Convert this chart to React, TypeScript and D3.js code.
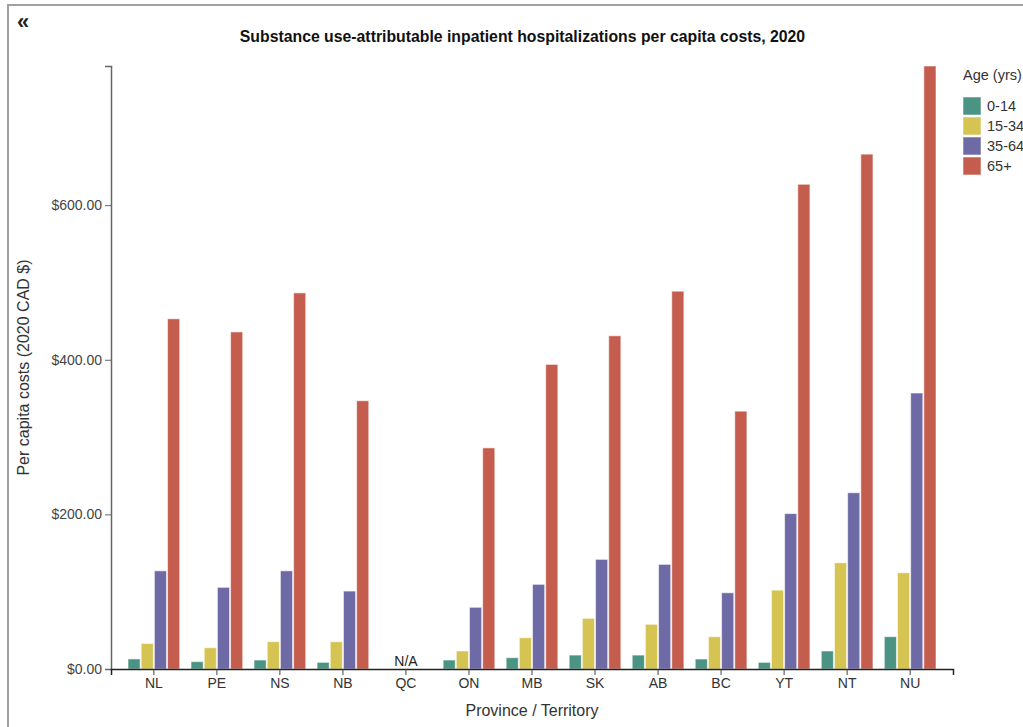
import React, { useEffect, useRef } from "react";
import * as d3 from "d3";

const provinces = ["NL", "PE", "NS", "NB", "QC", "ON", "MB", "SK", "AB", "BC", "YT", "NT", "NU"];
const ageGroups = ["0-14", "15-34", "35-64", "65+"];
const colors = ["#4b9483", "#d6c452", "#6e6aa6", "#c45d4e"];
// values per age group, aligned with provinces; null = N/A
const age0_14 = [13, 9.5, 11.6, 8.6, null, 11.6, 14.6, 18, 18, 12.9, 8.6, 23.3, 41.8];
const age15_34 = [33, 27.5, 35.3, 35.3, null, 23.3, 40.5, 65.5, 57.8, 41.8, 102, 137.4, 124.5];
const age35_64 = [127, 105.6, 127, 100.8, null, 79.8, 109.5, 141.8, 135.3, 98.6, 201, 228, 357];
const age65plus = [453, 436, 486.5, 347, null, 286, 394, 431, 488.7, 333.5, 627, 666, 780];
const yTicks = [0, 200, 400, 600];
const title = "Substance use-attributable inpatient hospitalizations per capita costs, 2020";
const yLabel = "Per capita costs (2020 CAD $)";
const xLabel = "Province / Territory";
const legendTitle = "Age (yrs)";

const W = 1023;
const H = 727;
const FONT = "'Liberation Sans', Arial, Helvetica, sans-serif";

export default function App() {
  const ref = useRef<SVGSVGElement>(null);

  useEffect(() => {
    const svg = d3.select(ref.current);
    svg.selectAll("*").remove();
    const series = [age0_14, age15_34, age35_64, age65plus];
    const margin = { left: 111, right: 953, top: 66, bottom: 669 };

    // frame
    svg.append("path")
      .attr("d", `M8,${H} L8,5 L${W},5`)
      .attr("fill", "none")
      .attr("stroke", "#a0a0a0")
      .attr("stroke-width", 2);

    svg.append("text")
      .attr("x", 17).attr("y", 29)
      .attr("font-family", FONT).attr("font-size", 22).attr("font-weight", "bold")
      .attr("fill", "#222")
      .text("\u00AB");

    const maxV = d3.max(series.flat().filter((v) => v != null) as number[]) as number;
    const y = d3.scaleLinear().domain([0, maxV]).range([margin.bottom, margin.top]);
    const x0 = d3.scaleBand<string>().domain(provinces).range([margin.left, margin.right])
      .paddingInner(0.18).paddingOuter(0.27);
    const x1 = d3.scaleBand<string>().domain(ageGroups).range([0, x0.bandwidth()]).paddingInner(0.08);

    // bars
    const g = svg.append("g");
    provinces.forEach((p, i) => {
      ageGroups.forEach((a, j) => {
        const v = series[j][i];
        if (v == null) return;
        g.append("rect")
          .attr("x", (x0(p) as number) + (x1(a) as number))
          .attr("y", y(v))
          .attr("width", x1.bandwidth())
          .attr("height", y(0) - y(v))
          .attr("fill", colors[j])
          .attr("stroke", "rgba(255,255,255,0.55)")
          .attr("stroke-width", 1);
      });
      if (series.every((s) => s[i] == null)) {
        svg.append("text")
          .attr("x", (x0(p) as number) + x0.bandwidth() / 2)
          .attr("y", 666)
          .attr("text-anchor", "middle")
          .attr("font-family", FONT).attr("font-size", 14).attr("fill", "#222")
          .text("N/A");
      }
    });

    // y axis
    const ya = svg.append("g").attr("transform", `translate(${margin.left},0)`)
      .call(d3.axisLeft(y).tickValues(yTicks).tickFormat((d) => d3.format("$.2f")(d as number)));
    ya.select(".domain").attr("stroke", "#666").attr("stroke-width", 1.5);
    ya.selectAll(".tick line").attr("stroke", "#666");
    ya.selectAll(".tick text").attr("font-family", FONT).attr("font-size", 14).attr("fill", "#444");

    // x axis
    const xa = svg.append("g").attr("transform", `translate(0,${margin.bottom})`)
      .call(d3.axisBottom(x0));
    xa.select(".domain").attr("stroke", "#222").attr("stroke-width", 1.5);
    xa.selectAll(".tick line").attr("stroke", "#444");
    xa.selectAll(".tick text").attr("font-family", FONT).attr("font-size", 14).attr("fill", "#333");

    // titles
    svg.append("text")
      .attr("x", 522.5).attr("y", 42)
      .attr("text-anchor", "middle")
      .attr("font-family", FONT).attr("font-size", 15.8).attr("font-weight", "bold").attr("fill", "#111")
      .text(title);

    svg.append("text")
      .attr("transform", `translate(29,${(margin.top + margin.bottom) / 2}) rotate(-90)`)
      .attr("text-anchor", "middle")
      .attr("font-family", FONT).attr("font-size", 16).attr("fill", "#333")
      .text(yLabel);

    svg.append("text")
      .attr("x", (margin.left + margin.right) / 2).attr("y", 716)
      .attr("text-anchor", "middle")
      .attr("font-family", FONT).attr("font-size", 16).attr("fill", "#333")
      .text(xLabel);

    // legend
    const lg = svg.append("g").attr("transform", "translate(963,0)");
    lg.append("text").attr("x", 0).attr("y", 80)
      .attr("font-family", FONT).attr("font-size", 14.5).attr("fill", "#333")
      .text(legendTitle);
    ageGroups.forEach((a, j) => {
      lg.append("rect").attr("x", 0).attr("y", 97 + j * 20).attr("width", 18).attr("height", 18)
        .attr("fill", colors[j]).attr("stroke", "rgba(255,255,255,0.55)");
      lg.append("text").attr("x", 24).attr("y", 111 + j * 20)
        .attr("font-family", FONT).attr("font-size", 14.5).attr("fill", "#333")
        .text(a);
    });
  }, []);

  return (
    <svg ref={ref} width={W} height={H}
      style={{ position: "absolute", left: 0, top: 0, background: "#fff" }} />
  );
}
